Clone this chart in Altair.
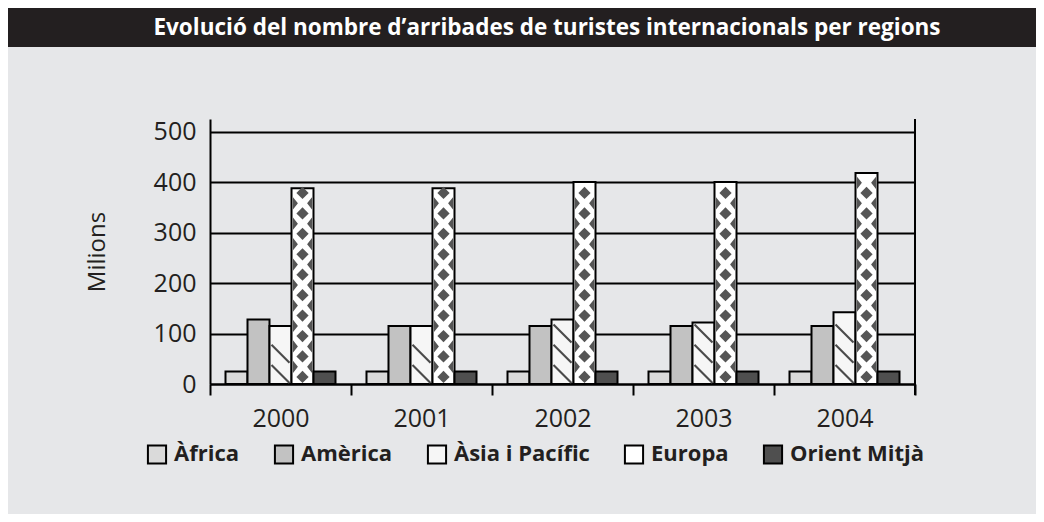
import altair as alt
import pandas as pd

TITLE = "Evolució del nombre d’arribades de turistes internacionals per regions"
years = ["2000", "2001", "2002", "2003", "2004"]
regions = ["Àfrica", "Amèrica", "Àsia i Pacífic", "Europa", "Orient Mitjà"]
africa = [25, 25, 25, 25, 25]
america = [128, 115, 115, 115, 115]
asia = [115, 115, 128, 122, 142]
europa = [388, 388, 400, 400, 418]
orient = [25, 25, 25, 25, 25]
y_ticks = [0, 100, 200, 300, 400, 500]

fills = ["#dadada", "#c2c2c2", "#f6f6f6", "#ffffff", "#4f4f4f"]

rows = []
for i, yr in enumerate(years):
    for reg, vals in zip(regions, [africa, america, asia, europa, orient]):
        rows.append({"year": yr, "region": reg, "value": vals[i]})
df = pd.DataFrame(rows)
title_df = pd.DataFrame({"t": [TITLE]})

W, H = 705, 265
FONT = "Open Sans"
BG = "#e6e7e9"
INK = "#231f20"

xscale = alt.Scale(paddingInner=0, paddingOuter=0)
xenc = alt.X("year:N", sort=years, title=None, scale=xscale,
             axis=alt.Axis(tickBand="extent", tickSize=11, tickWidth=2, tickColor="black",
                           domainColor="black", domainWidth=2, labelPadding=11, labelAngle=0,
                           labelFontSize=25, labelColor=INK, labelFont=FONT, grid=False))
xoff = alt.XOffset("region:N", sort=regions,
                   scale=alt.Scale(domain=regions, paddingInner=0, paddingOuter=0.7045))
yscale = alt.Scale(domain=[0, 525], nice=False)

bars = alt.Chart(df).mark_bar(stroke="black", strokeWidth=2).encode(
    x=xenc,
    xOffset=xoff,
    y=alt.Y("value:Q", scale=yscale, title="Milions",
            axis=alt.Axis(values=y_ticks, ticks=False, grid=True, gridColor="black", gridWidth=2,
                          domainColor="black", domainWidth=2, labelPadding=14,
                          labelFontSize=25, labelColor=INK, labelFont=FONT,
                          titleFontSize=24, titleFont=FONT, titleFontWeight="normal",
                          titleColor=INK, titlePadding=44)),
    color=alt.Color("region:N", sort=regions,
                    scale=alt.Scale(domain=regions, range=fills),
                    legend=alt.Legend(title=None, orient="none", legendX=-64, legendY=324,
                                      direction="horizontal", symbolType="square",
                                      symbolSize=330, symbolStrokeColor="black",
                                      symbolStrokeWidth=2, labelFontSize=22,
                                      labelFont=FONT, labelFontWeight="bold",
                                      labelColor=INK, labelOffset=6, columnPadding=30)),
)

xpt = alt.X("year:N", sort=years, scale=xscale)

# Europa diamond pattern
eu = alt.Chart(df).transform_filter(alt.datum.region == "Europa")
centers = eu.transform_calculate(d="sequence(14, datum.value - 6, 40.5)").transform_flatten(["d"]).mark_point(
    shape="diamond", filled=True, color="#555555", size=150, opacity=1
).encode(x=xpt, xOffset=xoff, y=alt.Y("d:Q", scale=yscale))
edges = eu.transform_calculate(d="sequence(34, datum.value - 6, 40.5)").transform_flatten(["d"]).mark_point(
    shape="M-1.55,-1L-0.75,0L-1.55,1ZM1.55,-1L0.75,0L1.55,1Z", filled=True, color="#555555",
    size=150, opacity=1
).encode(x=xpt, xOffset=xoff, y=alt.Y("d:Q", scale=yscale))

# Àsia diagonal hatching
asia_lines = alt.Chart(df).transform_filter(alt.datum.region == "Àsia i Pacífic").transform_calculate(
    d="sequence(20, datum.value - 18, 40)").transform_flatten(["d"]).mark_point(
    shape="M-0.9,-0.9L0.9,0.9", filled=False, stroke="#4a4a4a", strokeWidth=2.2, size=400, opacity=1
).encode(x=xpt, xOffset=xoff, y=alt.Y("d:Q", scale=yscale))

right_border = alt.Chart(title_df).mark_rule(color="black", strokeWidth=2).encode(
    x=alt.value(W), y=alt.value(0), y2=alt.value(H + 11))

band = alt.Chart(title_df).mark_rect(color="#231f20").encode(
    x=alt.value(-202), x2=alt.value(W + 121), y=alt.value(-111), y2=alt.value(-72))
title_text = alt.Chart(title_df).mark_text(
    color="white", font=FONT,
    fontWeight="bold", fontSize=22.5, align="center", baseline="middle").encode(
    x=alt.value(337), y=alt.value(-91), text="t:N")

chart = alt.layer(bars, asia_lines, centers, edges, right_border, band, title_text).properties(
    width=W, height=H,
    background=BG,
    padding={"left": 202, "top": 111, "right": 121, "bottom": 130},
    autosize=alt.AutoSizeParams(type="none"),
).configure_view(stroke=None).configure_axis(labelFontWeight="normal")

chart.save("out.html", embed_options={"renderer": "svg", "actions": False})
